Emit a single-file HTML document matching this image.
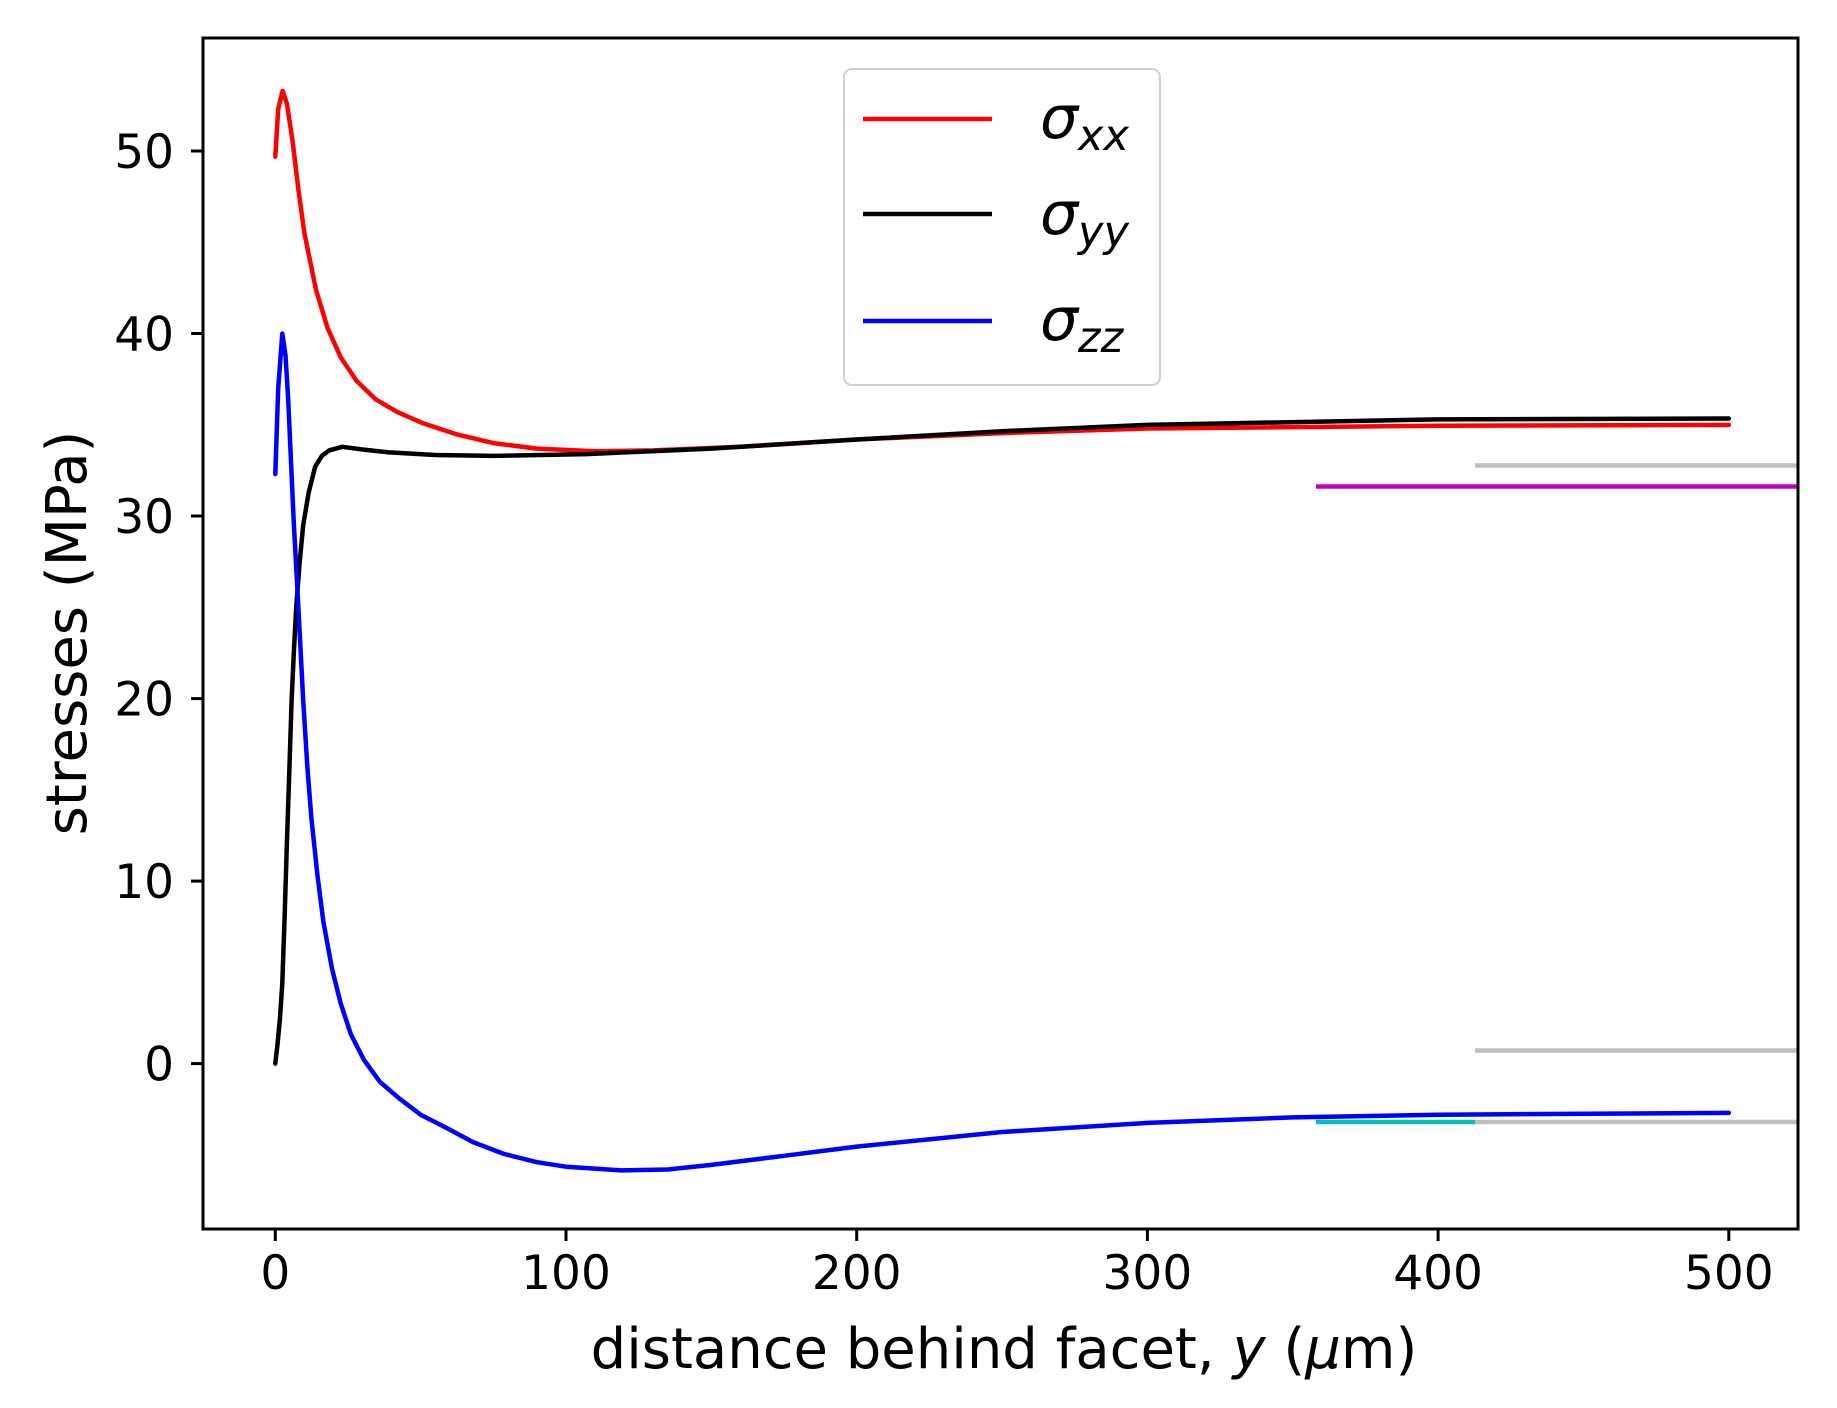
<!DOCTYPE html>
<html><head><meta charset="utf-8"><style>
html,body{margin:0;padding:0;background:#fff;}
svg{display:block;}
text{font-family:"DejaVu Sans","Liberation Sans",sans-serif;fill:#000;}
</style></head><body>
<svg width="1837" height="1408" viewBox="0 0 1837 1408" xmlns="http://www.w3.org/2000/svg">
<rect width="1837" height="1408" fill="#fff"/>
<line x1="1475" y1="465.5" x2="1798" y2="465.5" stroke="#bfbfbf" stroke-width="4.5"/>
<line x1="1316" y1="486.5" x2="1798" y2="486.5" stroke="#bf00bf" stroke-width="4.5"/>
<line x1="1475" y1="1050.5" x2="1798" y2="1050.5" stroke="#bfbfbf" stroke-width="4.5"/>
<line x1="1316" y1="1122" x2="1475" y2="1122" stroke="#00bfbf" stroke-width="4.5"/>
<line x1="1475" y1="1122" x2="1798" y2="1122" stroke="#bfbfbf" stroke-width="4.5"/>
<g fill="none" stroke-width="4.5" stroke-linejoin="round" stroke-linecap="round">
<polyline stroke="#ff0000" points="275.3,156.6 278.2,109.1 282.6,90.9 286.9,103.7 292.7,142.0 298.6,191.2 304.4,233.2 316.0,289.8 327.6,328.1 340.7,357.3 356.7,381.0 375.6,399.3 397.4,412.1 422.4,423.0 455.5,434.0 493.3,443.1 536.9,448.6 595.1,451.3 653.2,450.4 740.4,446.8 856.7,439.5 1002.1,433.1 1147.4,428.5 1438.1,425.8 1728.8,424.9"/>
<polyline stroke="#000000" points="275.3,1063.6 277.6,1043.5 280.0,1018 282.3,983.3 284.6,917.6 286.9,842.8 289.3,771.6 291.6,700.4 293.9,651.1 296.2,607.4 299.7,561.7 303.2,525.2 308.7,492.4 315.1,466.8 321.8,455.9 329.1,450.4 342.2,446.8 362.5,449.5 387.5,452.2 435.2,455.0 493.3,455.9 586.3,454.1 711.4,448.6 856.7,439.5 1002.1,431.2 1147.4,424.9 1438.1,419.4 1728.8,418.5"/>
<polyline stroke="#0000ff" points="275.3,474.1 278.2,388.4 282.3,333.6 285.5,355.5 288.1,397.5 291.0,461.4 293.9,525.2 297.4,589.1 303.2,700.4 307.3,766.1 311.3,817.2 317.5,875.6 323.3,921.3 332.0,968.7 340.7,1003.4 350.9,1034.4 364.0,1060.0 380.0,1081.9 399.1,1098.3 420.6,1114.7 445.7,1127.5 473.0,1142.1 504.1,1154.0 536.9,1162.2 566.0,1166.7 621.2,1170.4 667.7,1169.5 711.4,1164.9 784.0,1155.8 856.7,1146.6 1002.1,1132.0 1147.4,1122.9 1292.7,1117.4 1438.1,1114.7 1728.8,1112.9"/>
</g>
<rect x="203" y="38" width="1595" height="1191" fill="none" stroke="#000" stroke-width="3"/>
<g stroke="#000" stroke-width="3">
<line x1="191" y1="151" x2="203" y2="151"/>
<line x1="191" y1="333.5" x2="203" y2="333.5"/>
<line x1="191" y1="516" x2="203" y2="516"/>
<line x1="191" y1="698.6" x2="203" y2="698.6"/>
<line x1="191" y1="881.1" x2="203" y2="881.1"/>
<line x1="191" y1="1063.6" x2="203" y2="1063.6"/>
<line x1="275.3" y1="1229" x2="275.3" y2="1241"/>
<line x1="566" y1="1229" x2="566" y2="1241"/>
<line x1="856.7" y1="1229" x2="856.7" y2="1241"/>
<line x1="1147.4" y1="1229" x2="1147.4" y2="1241"/>
<line x1="1438.1" y1="1229" x2="1438.1" y2="1241"/>
<line x1="1728.8" y1="1229" x2="1728.8" y2="1241"/>
</g>
<g font-size="47" text-anchor="end">
<text x="174" y="168">50</text>
<text x="174" y="350.5">40</text>
<text x="174" y="533">30</text>
<text x="174" y="715.6">20</text>
<text x="174" y="898.1">10</text>
<text x="174" y="1080.6">0</text>
</g>
<g font-size="47" text-anchor="middle">
<text x="275.3" y="1289">0</text>
<text x="566" y="1289">100</text>
<text x="856.7" y="1289">200</text>
<text x="1147.4" y="1289">300</text>
<text x="1438.1" y="1289">400</text>
<text x="1728.8" y="1289">500</text>
</g>
<text x="1004" y="1368" font-size="56" text-anchor="middle">distance behind facet, <tspan font-style="italic">y</tspan> (<tspan font-style="italic">μ</tspan>m)</text>
<text transform="translate(86,633) rotate(-90)" font-size="56" text-anchor="middle">stresses (MPa)</text>
<rect x="844" y="69" width="316" height="316" rx="8" fill="#fff" fill-opacity="0.8" stroke="#d0d0d0" stroke-width="2"/>
<g stroke-width="4.5">
<line x1="863" y1="119" x2="992" y2="119" stroke="#ff0000"/>
<line x1="863" y1="214" x2="992" y2="214" stroke="#000"/>
<line x1="863" y1="321" x2="992" y2="321" stroke="#0000ff"/>
</g>
<g font-style="italic">
<text x="1040" y="138" font-size="60">σ<tspan font-size="43" dy="12">xx</tspan></text>
<text x="1040" y="234" font-size="60">σ<tspan font-size="43" dy="12">yy</tspan></text>
<text x="1040" y="340" font-size="60">σ<tspan font-size="43" dy="12">zz</tspan></text>
</g>
</svg>
</body></html>
